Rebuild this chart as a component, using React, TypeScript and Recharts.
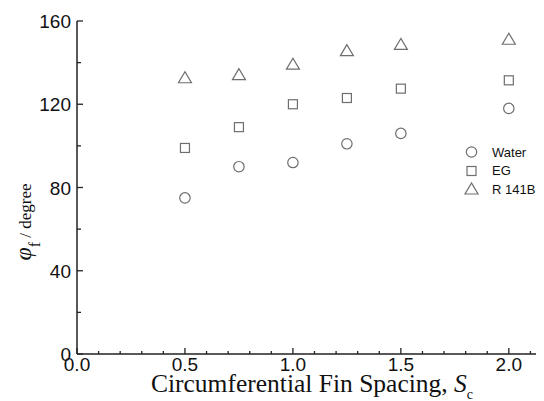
import { ScatterChart, Scatter, XAxis, YAxis } from "recharts";

// fin spacing values (x) and the three fluids
const spacing = [0.5, 0.75, 1.0, 1.25, 1.5, 2.0];
const water = [75, 90, 92, 101, 106, 118];
const eg = [99, 109, 120, 123, 127.5, 131.5];
const r141b = [132.5, 134, 139, 145.5, 148.5, 151];

const xTicks = [0, 0.1, 0.2, 0.3, 0.4, 0.5, 0.6, 0.7, 0.8, 0.9, 1.0, 1.1, 1.2, 1.3, 1.4, 1.5, 1.6, 1.7, 1.8, 1.9, 2.0, 2.1, 2.2];
const xMajor = [0, 0.5, 1.0, 1.5, 2.0];
const xMajorLabels = ["0.0", "0.5", "1.0", "1.5", "2.0"];
const yTicks = [0, 20, 40, 60, 80, 100, 120, 140, 160];
const yMajor = [0, 40, 80, 120, 160];
const yMajorLabels = ["0", "40", "80", "120", "160"];

const toPoints = (vals: number[]) => spacing.map((x, i) => ({ x, y: vals[i] }));

const AXIS = "#222";
const MARK = "#6e6e6e";
const SANS = "'Liberation Sans', Arial, sans-serif";
const SERIF = "'Liberation Serif', 'Times New Roman', serif";

const majorIndex = (list: number[], v: number) =>
  list.findIndex((m) => Math.abs(m - v) < 1e-6);

const BottomTick = ({ x, y, payload }: any) => {
  const idx = majorIndex(xMajor, payload.value);
  return (
    <g>
      <line x1={x} x2={x} y1={y} y2={y - (idx >= 0 ? 6 : 3)} stroke={AXIS} strokeWidth={1.3} />
      {idx >= 0 && (
        <text x={x} y={y + 17} textAnchor="middle" fontSize={19} fontFamily={SANS} fill="#111">
          {xMajorLabels[idx]}
        </text>
      )}
    </g>
  );
};

const TopTick = ({ x, y, payload }: any) => {
  const idx = majorIndex(xMajor, payload.value);
  return <line x1={x} x2={x} y1={y} y2={y + (idx >= 0 ? 6 : 3)} stroke={AXIS} strokeWidth={1.3} />;
};

const LeftTick = ({ x, y, payload }: any) => {
  const idx = majorIndex(yMajor, payload.value);
  return (
    <g>
      <line x1={x} x2={x + (idx >= 0 ? 6 : 4)} y1={y} y2={y} stroke={AXIS} strokeWidth={1.3} />
      {idx >= 0 && (
        <text x={x - 6} y={y + 7} textAnchor="end" fontSize={19} fontFamily={SANS} fill="#111">
          {yMajorLabels[idx]}
        </text>
      )}
    </g>
  );
};

const CircleMark = ({ cx, cy }: any) => (
  <circle cx={cx} cy={cy} r={5.2} fill="none" stroke={MARK} strokeWidth={1.2} />
);
const SquareMark = ({ cx, cy }: any) => (
  <rect x={cx - 4.5} y={cy - 4.5} width={9} height={9} fill="none" stroke={MARK} strokeWidth={1.2} />
);
const TriangleMark = ({ cx, cy }: any) => (
  <polygon
    points={`${cx},${cy - 6.5} ${cx - 6.5},${cy + 4.5} ${cx + 6.5},${cy + 4.5}`}
    fill="none"
    stroke={MARK}
    strokeWidth={1.2}
  />
);

const legendItems = [
  { name: "Water", shape: "circle" },
  { name: "EG", shape: "square" },
  { name: "R 141B", shape: "triangle" },
];

function LegendIcon({ shape }: { shape: string }) {
  return (
    <svg width={17} height={18}>
      {shape === "circle" && <CircleMark cx={8.5} cy={9} />}
      {shape === "square" && <SquareMark cx={8.5} cy={9} />}
      {shape === "triangle" && <TriangleMark cx={8.5} cy={9.5} />}
    </svg>
  );
}

export default function App() {
  return (
    <div style={{ position: "relative", width: 536, height: 393, overflow: "hidden" }}>
      <ScatterChart width={560} height={393} margin={{ top: 13, right: 16, bottom: 0, left: 0 }}>
        <XAxis
          dataKey="x"
          type="number"
          domain={[0, 2.2]}
          ticks={xTicks}
          interval={0}
          tickSize={0}
          tickMargin={0}
          tick={<BottomTick />}
          height={47}
          axisLine={{ stroke: AXIS, strokeWidth: 1.5 }}
          label={{
            content: () => (
              <text x={304} y={384} textAnchor="middle" fontSize={25.5} fontFamily={SERIF} fill="#111">
                Circumferential Fin Spacing,{" "}
                <tspan fontStyle="italic">S</tspan>
                <tspan fontSize={14} dy={7}>c</tspan>
              </text>
            ),
          }}
        />
        <XAxis
          xAxisId="top"
          orientation="top"
          type="number"
          domain={[0, 2.2]}
          ticks={xTicks}
          interval={0}
          tickSize={0}
          tickMargin={0}
          tick={<TopTick />}
          height={0}
          axisLine={{ stroke: AXIS, strokeWidth: 1.5 }}
        />
        <YAxis
          dataKey="y"
          type="number"
          domain={[0, 160]}
          ticks={yTicks}
          interval={0}
          tickSize={0}
          tickMargin={0}
          tick={<LeftTick />}
          width={69}
          axisLine={{ stroke: AXIS, strokeWidth: 1.5 }}
          label={{
            content: () => (
              <text x={23} y={214} transform="rotate(-90 23 214)" textAnchor="middle" fontFamily={SERIF} fill="#111">
                <tspan fontSize={24} fontStyle="italic">φ</tspan>
                <tspan fontSize={16} dy={9}>f</tspan>
                <tspan fontSize={17} dy={-9}> / degree</tspan>
              </text>
            ),
          }}
        />
        <Scatter name="Water" data={toPoints(water)} shape={<CircleMark />} isAnimationActive={false} />
        <Scatter name="EG" data={toPoints(eg)} shape={<SquareMark />} isAnimationActive={false} />
        <Scatter name="R 141B" data={toPoints(r141b)} shape={<TriangleMark />} isAnimationActive={false} />
      </ScatterChart>
      <div style={{ position: "absolute", left: 455, top: 135, fontFamily: SANS, fontSize: 13, color: "#111" }}>
        {legendItems.map((it) => (
          <div key={it.name} style={{ display: "flex", alignItems: "center", height: 18.5 }}>
            <LegendIcon shape={it.shape} />
            <span style={{ marginLeft: 12 }}>{it.name}</span>
          </div>
        ))}
      </div>
    </div>
  );
}
